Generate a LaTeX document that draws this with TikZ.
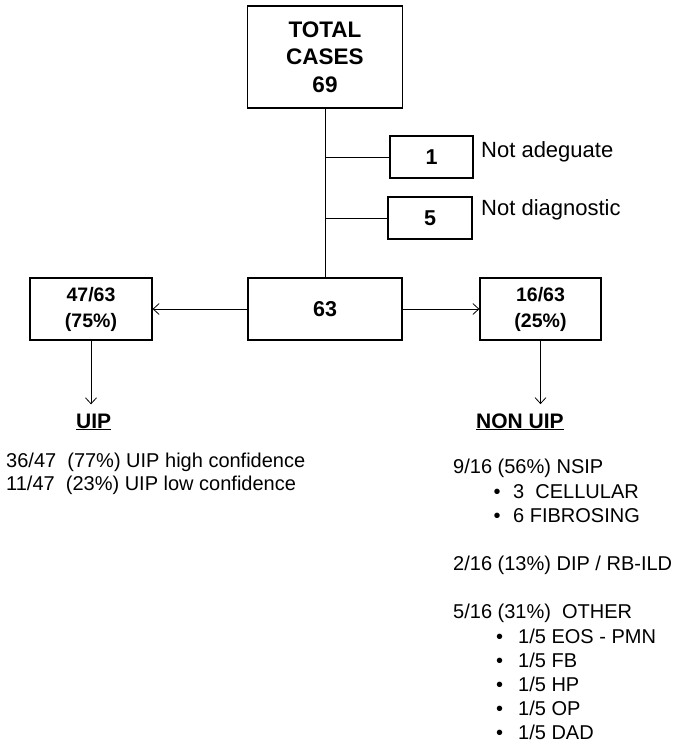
\documentclass[tikz,border=0pt]{standalone}
\usepackage{fontspec}
\setmainfont{Liberation Sans}
\usetikzlibrary{arrows.meta}
\begin{document}
\begin{tikzpicture}[x=1pt,y=-1pt,
  box/.style={draw=black,line width=1.2pt,inner sep=0pt,align=center,font=\fontsize{21.5}{28}\selectfont\bfseries},
  conn/.style={line width=0.8pt},
  arr/.style={conn,-{Straight Barb[length=6pt,width=11pt]}},
  txt/.style={anchor=base west,inner sep=0pt,font=\fontsize{20}{24}\selectfont},
  side/.style={anchor=base west,inner sep=0pt,font=\fontsize{22}{24}\selectfont},
  head/.style={anchor=base west,inner sep=0pt,font=\fontsize{21}{24}\selectfont\bfseries}]
\useasboundingbox (0,0) rectangle (680,747);
% boxes
\node[box,minimum width=155pt,minimum height=102pt,font=\fontsize{22.5}{27.5}\selectfont\bfseries] (top) at (325,57) {TOTAL\\CASES\\69};
\node[box,minimum width=83pt,minimum height=42pt] (n1) at (431.5,157) {1};
\node[box,minimum width=84pt,minimum height=42pt] (n5) at (430,218) {5};
\node[box,minimum width=154pt,minimum height=62pt] (c63) at (325,309) {63};
\node[box,minimum width=122pt,minimum height=62pt,font=\fontsize{19.5}{26}\selectfont\bfseries] (left) at (91,309) {47/63\\(75\%)};
\node[box,minimum width=121pt,minimum height=62pt,font=\fontsize{19.5}{26}\selectfont\bfseries] (right) at (540.5,309) {16/63\\(25\%)};
% side labels
\node[side] (na) at (481,157) {Not adeguate};
\node[side] (nd) at (481,215) {Not diagnostic};
% connectors
\draw[conn] (top.south) -- (c63.north);
\draw[conn] (n1.west) -- (n1.west -| top.south);
\draw[conn] (n5.west) -- (n5.west -| top.south);
\draw[arr] (c63.west) -- (left.east);
\draw[arr] (c63.east) -- (right.west);
% headings
\node[head] (uip) at (76,428) {\underline{UIP}};
\node[head] (nonuip) at (476,428) {\underline{NON UIP}};
\draw[arr,shorten >=9pt] (left.south) -- (left.south |- uip.north);
\draw[arr,shorten >=9pt] (right.south) -- (right.south |- nonuip.north);
% UIP details
\node[txt] (u1) at (6,467) {36/47\ \ (77\%) UIP high confidence};
\node[txt] (u2) at (6,490) {11/47\ \ (23\%) UIP low confidence};
% NON UIP details
\node[txt] (r1) at (453,473) {9/16 (56\%) NSIP};
\node[txt] (b1) at (493.5,498) {\textbullet};
\node[txt] (r2) at (513,498) {3\ \ CELLULAR};
\node[txt] (b2) at (493.5,522) {\textbullet};
\node[txt] (r3) at (513,522) {6 FIBROSING};
\node[txt] (r4) at (453,570) {2/16 (13\%) DIP / RB-ILD};
\node[txt] (r5) at (453,618) {5/16 (31\%)\ \ OTHER};
\node[txt] (b3) at (496,643) {\textbullet};
\node[txt] (r6) at (518,643) {1/5 EOS - PMN};
\node[txt] (b4) at (496,667) {\textbullet};
\node[txt] (r7) at (518,667) {1/5 FB};
\node[txt] (b5) at (496,691) {\textbullet};
\node[txt] (r8) at (518,691) {1/5 HP};
\node[txt] (b6) at (496,715) {\textbullet};
\node[txt] (r9) at (518,715) {1/5 OP};
\node[txt] (b7) at (496,739) {\textbullet};
\node[txt] (r10) at (518,739) {1/5 DAD};
\end{tikzpicture}
\end{document}
